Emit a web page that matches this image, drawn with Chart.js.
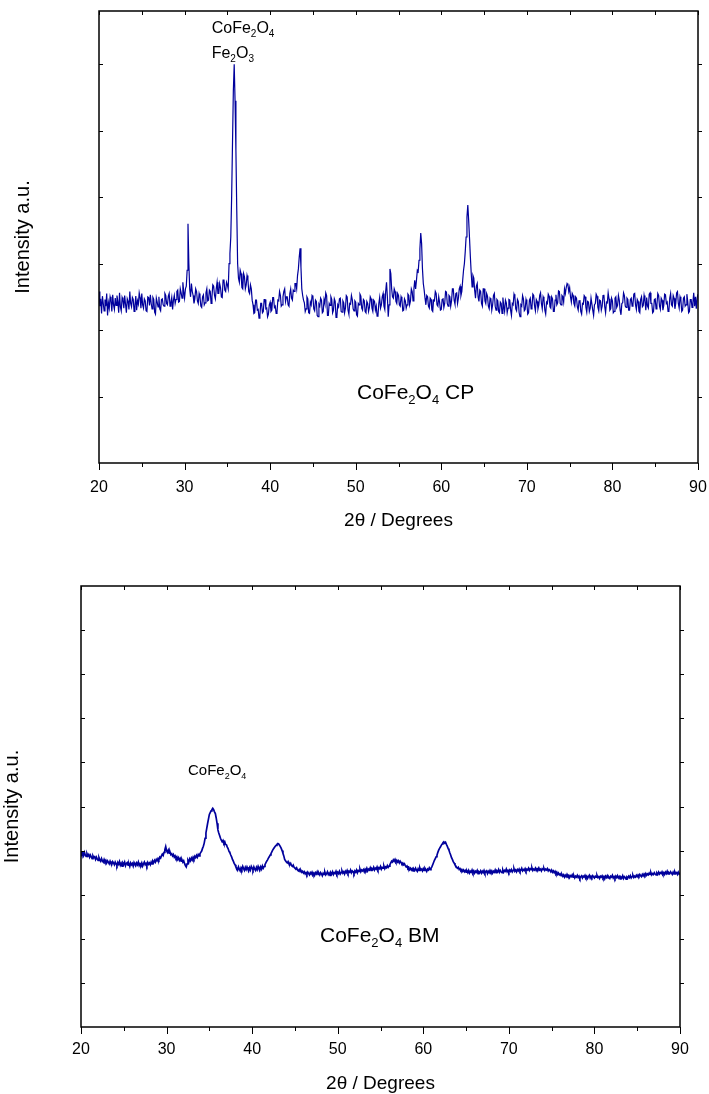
<!DOCTYPE html>
<html>
<head>
<meta charset="utf-8">
<script src="https://cdn.jsdelivr.net/npm/chart.js@4.4.0/dist/chart.umd.min.js"></script>
<style>
  html, body { margin: 0; padding: 0; background: #fff; }
  body { width: 709px; height: 1094px; position: relative; overflow: hidden; }
  canvas { position: absolute; left: 0; }
</style>
</head>
<body>
<canvas id="cpChart" width="709" height="545" style="top:0"></canvas>
<canvas id="bmChart" width="709" height="560" style="top:545px"></canvas>
<script>
// 2theta grid: one reading every 0.1 deg from 20 to 90
const TWO_THETA_START = 20;
const TWO_THETA_STEP = 0.1;
const xTicks = [20, 30, 40, 50, 60, 70, 80, 90];

// CoFe2O4 CP (co-precipitated), intensity a.u., one row per degree
const cpIntensity = [
  258, 236, 247, 225, 251, 240, 229, 246, 236, 255,
  222, 241, 233, 250, 244, 228, 253, 238, 231, 248,
  237, 252, 243, 226, 256, 235, 229, 249, 245, 233,
  252, 239, 226, 247, 243, 231, 258, 240, 235, 249,
  246, 228, 237, 251, 230, 244, 239, 256, 249, 233,
  255, 238, 233, 247, 244, 229, 228, 250, 249, 237,
  253, 240, 232, 249, 246, 227, 224, 248, 242, 235,
  250, 232, 229, 246, 247, 238, 236, 255, 252, 240,
  238, 251, 255, 236, 241, 249, 231, 245, 252, 240,
  246, 258, 260, 242, 243, 262, 256, 248, 272, 258,
  248, 262, 266, 290, 360, 300, 262, 250, 270, 258,
  252, 240, 247, 262, 258, 244, 240, 255, 250, 236,
  234, 250, 253, 238, 241, 256, 262, 244, 245, 260,
  258, 240, 250, 268, 266, 252, 247, 262, 272, 255,
  255, 270, 264, 250, 249, 275, 276, 260, 258, 272,
  268, 262, 300, 315, 340, 400, 480, 560, 600, 545,
  470, 380, 300, 278, 272, 290, 285, 264, 262, 285,
  280, 262, 268, 282, 276, 258, 255, 268, 262, 245,
  238, 225, 226, 245, 245, 230, 231, 218, 222, 240,
  240, 226, 228, 246, 246, 232, 233, 220, 224, 238,
  242, 228, 230, 249, 249, 234, 236, 225, 227, 245,
  244, 258, 252, 236, 238, 250, 258, 262, 243, 250,
  250, 238, 236, 255, 262, 248, 245, 260, 258, 270,
  270, 262, 282, 292, 310, 323, 295, 262, 252, 245,
  241, 228, 232, 250, 247, 226, 225, 242, 238, 252,
  250, 232, 229, 245, 243, 222, 220, 239, 236, 248,
  245, 226, 228, 246, 240, 256, 252, 222, 222, 240,
  237, 250, 246, 226, 230, 247, 243, 219, 221, 238,
  235, 247, 248, 228, 227, 244, 241, 226, 233, 252,
  250, 230, 224, 240, 239, 252, 246, 232, 229, 244,
  242, 223, 221, 240, 238, 254, 251, 233, 230, 246,
  244, 228, 226, 243, 240, 228, 234, 250, 247, 233,
  228, 245, 243, 230, 236, 221, 222, 240, 249, 233,
  238, 250, 255, 236, 231, 258, 272, 250, 220, 238,
  292, 285, 262, 250, 248, 262, 258, 243, 240, 255,
  252, 238, 236, 250, 246, 229, 230, 247, 244, 233,
  238, 254, 252, 238, 244, 262, 258, 244, 262, 275,
  262, 275, 290, 288, 305, 322, 346, 330, 292, 270,
  260, 248, 238, 252, 250, 236, 233, 248, 246, 230,
  228, 245, 244, 258, 255, 238, 236, 250, 242, 230,
  231, 246, 248, 234, 240, 258, 257, 240, 236, 252,
  250, 236, 244, 262, 262, 245, 239, 255, 256, 240,
  248, 262, 266, 252, 258, 275, 290, 300, 318, 340,
  370, 388, 365, 338, 310, 285, 265, 282, 278, 260,
  248, 266, 270, 250, 243, 260, 258, 240, 236, 262,
  262, 244, 240, 255, 251, 236, 232, 248, 246, 230,
  238, 252, 255, 236, 230, 246, 244, 228, 226, 242,
  240, 225, 249, 236, 228, 245, 241, 226, 233, 246,
  245, 230, 222, 240, 238, 254, 250, 232, 229, 246,
  243, 226, 220, 238, 236, 252, 247, 229, 231, 246,
  240, 224, 226, 245, 248, 232, 235, 254, 252, 236,
  229, 246, 243, 232, 238, 252, 256, 240, 232, 250,
  246, 230, 224, 242, 240, 254, 251, 235, 233, 250,
  247, 228, 228, 245, 253, 238, 241, 259, 258, 240,
  238, 252, 250, 242, 262, 255, 264, 270, 268, 258,
  264, 250, 242, 255, 252, 240, 236, 250, 248, 235,
  230, 244, 245, 228, 224, 240, 239, 252, 250, 234,
  227, 243, 242, 228, 233, 248, 248, 230, 222, 238,
  240, 254, 251, 234, 229, 245, 244, 230, 236, 252,
  253, 235, 226, 242, 241, 256, 247, 230, 232, 248,
  244, 226, 228, 248, 250, 234, 237, 252, 245, 230,
  223, 240, 241, 256, 252, 236, 234, 248, 246, 230,
  230, 246, 248, 236, 239, 254, 255, 238, 231, 246,
  243, 228, 226, 246, 250, 235, 237, 252, 244, 230,
  249, 236, 233, 254, 256, 240, 240, 226, 228, 246,
  247, 232, 238, 255, 252, 236, 231, 248, 245, 230,
  237, 254, 253, 240, 242, 228, 229, 248, 255, 238,
  236, 252, 248, 232, 240, 256, 258, 240, 233, 250,
  245, 228, 230, 248, 250, 236, 238, 254, 243, 226,
  228, 246, 246, 234, 241, 256, 236, 250, 232, 248,
  254
];

// CoFe2O4 BM (ball milled), intensity a.u., one row per degree
const bmIntensity = [
  3.98, 3.92, 3.95, 3.89, 3.96, 3.90, 3.87, 3.93, 3.88, 3.91,
  3.85, 3.90, 3.86, 3.82, 3.88, 3.84, 3.86, 3.80, 3.85, 3.81,
  3.78, 3.84, 3.79, 3.76, 3.82, 3.77, 3.74, 3.80, 3.75, 3.78,
  3.72, 3.77, 3.74, 3.70, 3.76, 3.71, 3.69, 3.75, 3.72, 3.68,
  3.74, 3.70, 3.66, 3.73, 3.69, 3.75, 3.67, 3.71, 3.65, 3.72,
  3.69, 3.74, 3.66, 3.71, 3.73, 3.67, 3.70, 3.64, 3.72, 3.68,
  3.71, 3.65, 3.73, 3.69, 3.66, 3.72, 3.68, 3.74, 3.66, 3.70,
  3.67, 3.72, 3.65, 3.70, 3.74, 3.68, 3.71, 3.66, 3.73, 3.69,
  3.72, 3.68, 3.74, 3.70, 3.76, 3.73, 3.78, 3.74, 3.80, 3.77,
  3.82, 3.79, 3.85, 3.83, 3.88, 3.92, 3.89, 3.96, 4.02, 4.09,
  4.00, 3.96, 4.01, 3.94, 3.97, 3.91, 3.93, 3.88, 3.91, 3.85,
  3.88, 3.83, 3.86, 3.80, 3.84, 3.78, 3.82, 3.76, 3.79, 3.74,
  3.77, 3.71, 3.66, 3.63, 3.70, 3.78, 3.74, 3.81, 3.77, 3.83,
  3.79, 3.85, 3.81, 3.87, 3.84, 3.89, 3.85, 3.91, 3.88, 3.93,
  3.96, 3.99, 4.05, 4.10, 4.17, 4.28, 4.40, 4.51, 4.62, 4.72,
  4.82, 4.86, 4.90, 4.93, 4.96, 4.93, 4.88, 4.84, 4.74, 4.62,
  4.47, 4.40, 4.34, 4.28, 4.24, 4.20, 4.23, 4.17, 4.20, 4.14,
  4.13, 4.08, 4.04, 3.98, 3.95, 3.90, 3.86, 3.80, 3.76, 3.71,
  3.68, 3.63, 3.60, 3.56, 3.63, 3.58, 3.54, 3.61, 3.57, 3.64,
  3.59, 3.55, 3.62, 3.57, 3.63, 3.58, 3.54, 3.61, 3.56, 3.64,
  3.60, 3.56, 3.63, 3.58, 3.55, 3.62, 3.57, 3.64, 3.59, 3.56,
  3.63, 3.58, 3.65, 3.60, 3.64, 3.68, 3.72, 3.76, 3.79, 3.83,
  3.86, 3.90, 3.93, 3.97, 4.01, 4.04, 4.07, 4.10, 4.12, 4.14,
  4.16, 4.15, 4.12, 4.09, 4.05, 4.00, 3.94, 3.88, 3.80, 3.77,
  3.74, 3.72, 3.75, 3.70, 3.68, 3.71, 3.66, 3.64, 3.67, 3.62,
  3.60, 3.58, 3.61, 3.56, 3.54, 3.57, 3.52, 3.55, 3.51, 3.53,
  3.49, 3.52, 3.47, 3.50, 3.46, 3.51, 3.48, 3.45, 3.50, 3.47,
  3.51, 3.46, 3.49, 3.44, 3.50, 3.47, 3.52, 3.46, 3.49, 3.45,
  3.50, 3.47, 3.43, 3.49, 3.46, 3.51, 3.45, 3.48, 3.52, 3.46,
  3.49, 3.44, 3.50, 3.47, 3.52, 3.46, 3.50, 3.48, 3.53, 3.47,
  3.51, 3.48, 3.53, 3.47, 3.50, 3.54, 3.49, 3.52, 3.47, 3.53,
  3.50, 3.55, 3.49, 3.53, 3.51, 3.56, 3.50, 3.54, 3.52, 3.48,
  3.54, 3.51, 3.56, 3.50, 3.55, 3.53, 3.58, 3.52, 3.56, 3.54,
  3.57, 3.52, 3.58, 3.55, 3.60, 3.54, 3.58, 3.56, 3.61, 3.55,
  3.59, 3.57, 3.62, 3.56, 3.60, 3.58, 3.63, 3.57, 3.61, 3.59,
  3.64, 3.58, 3.62, 3.60, 3.65, 3.59, 3.63, 3.61, 3.66, 3.62,
  3.65, 3.68, 3.72, 3.76, 3.74, 3.79, 3.76, 3.80, 3.75, 3.78,
  3.74, 3.77, 3.72, 3.76, 3.73, 3.70, 3.72, 3.68, 3.70, 3.66,
  3.63, 3.65, 3.60, 3.62, 3.57, 3.60, 3.56, 3.59, 3.54, 3.58,
  3.55, 3.60, 3.56, 3.53, 3.59, 3.55, 3.61, 3.56, 3.58, 3.54,
  3.59, 3.55, 3.60, 3.57, 3.53, 3.58, 3.56, 3.61, 3.57, 3.60,
  3.63, 3.68, 3.73, 3.78, 3.82, 3.86, 3.90, 3.96, 4.01, 4.05,
  4.08, 4.12, 4.15, 4.18, 4.20, 4.17, 4.19, 4.14, 4.10, 4.05,
  4.01, 3.95, 3.90, 3.84, 3.80, 3.75, 3.72, 3.68, 3.65, 3.62,
  3.60, 3.62, 3.57, 3.59, 3.55, 3.57, 3.53, 3.56, 3.52, 3.55,
  3.51, 3.54, 3.50, 3.55, 3.49, 3.53, 3.51, 3.56, 3.50, 3.54,
  3.49, 3.53, 3.51, 3.55, 3.48, 3.52, 3.50, 3.54, 3.49, 3.53,
  3.50, 3.55, 3.49, 3.52, 3.54, 3.48, 3.53, 3.50, 3.55, 3.51,
  3.54, 3.49, 3.53, 3.51, 3.56, 3.50, 3.54, 3.52, 3.57, 3.51,
  3.55, 3.52, 3.50, 3.56, 3.51, 3.55, 3.53, 3.58, 3.52, 3.55,
  3.51, 3.56, 3.53, 3.57, 3.52, 3.55, 3.59, 3.53, 3.56, 3.52,
  3.57, 3.54, 3.58, 3.53, 3.56, 3.60, 3.54, 3.57, 3.55, 3.59,
  3.54, 3.58, 3.56, 3.60, 3.55, 3.59, 3.57, 3.61, 3.55, 3.58,
  3.56, 3.60, 3.55, 3.59, 3.57, 3.61, 3.56, 3.58, 3.54, 3.59,
  3.57, 3.60, 3.55, 3.58, 3.56, 3.59, 3.54, 3.57, 3.55, 3.52,
  3.56, 3.51, 3.54, 3.50, 3.53, 3.48, 3.51, 3.46, 3.49, 3.45,
  3.47, 3.43, 3.46, 3.42, 3.45, 3.40, 3.44, 3.41, 3.46, 3.42,
  3.44, 3.39, 3.43, 3.41, 3.45, 3.40, 3.43, 3.38, 3.42, 3.40,
  3.44, 3.39, 3.42, 3.37, 3.41, 3.43, 3.38, 3.42, 3.40, 3.44,
  3.39, 3.42, 3.37, 3.41, 3.44, 3.38, 3.42, 3.39, 3.43, 3.40,
  3.38, 3.42, 3.40, 3.44, 3.39, 3.41, 3.37, 3.42, 3.40, 3.43,
  3.38, 3.41, 3.36, 3.42, 3.39, 3.43, 3.38, 3.40, 3.37, 3.42,
  3.40, 3.44, 3.38, 3.41, 3.37, 3.42, 3.39, 3.43, 3.38, 3.41,
  3.36, 3.40, 3.38, 3.43, 3.37, 3.41, 3.39, 3.35, 3.40, 3.38,
  3.42, 3.39, 3.43, 3.38, 3.41, 3.44, 3.39, 3.42, 3.40, 3.44,
  3.41, 3.45, 3.42, 3.46, 3.43, 3.41, 3.46, 3.43, 3.47, 3.44,
  3.48, 3.44, 3.47, 3.45, 3.49, 3.46, 3.50, 3.45, 3.48, 3.46,
  3.50, 3.47, 3.45, 3.49, 3.46, 3.51, 3.47, 3.50, 3.48, 3.52,
  3.47, 3.50, 3.46, 3.51, 3.48, 3.53, 3.47, 3.50, 3.48, 3.52,
  3.49, 3.46, 3.51, 3.47, 3.52, 3.48, 3.50, 3.46, 3.51, 3.47,
  3.50
];

const FONT = '"Liberation Sans", Arial, Helvetica, sans-serif';
const LINE_COLOR = '#00009c';

function toPoints(values) {
  return values.map((v, i) => ({ x: +(TWO_THETA_START + i * TWO_THETA_STEP).toFixed(1), y: v }));
}

// text with subscripts, parts = [[text, isSub], ...]
function drawFormula(ctx, parts, x, y, size) {
  ctx.fillStyle = '#000';
  ctx.textAlign = 'left';
  ctx.textBaseline = 'alphabetic';
  parts.forEach(([t, sub]) => {
    const s = sub ? Math.round(size * 0.62) : size;
    ctx.font = s + 'px ' + FONT;
    ctx.fillText(t, x, sub ? y + size * 0.24 : y);
    x += ctx.measureText(t).width;
  });
}

// box frame, tick marks and formula labels
const frameTicks = {
  id: 'frameTicks',
  afterDatasetsDraw(chart, args, opts) {
    const { ctx, chartArea: a, scales: { x, y } } = chart;
    ctx.save();
    ctx.strokeStyle = '#000';
    ctx.lineWidth = 1;
    ctx.beginPath();
    for (let v = x.min; v <= x.max; v += 5) {
      const px = Math.round(x.getPixelForValue(v)) + 0.5;
      const len = v % 10 === 0 ? 7 : 4;
      ctx.moveTo(px, a.bottom); ctx.lineTo(px, a.bottom + len);
      ctx.moveTo(px, a.top); ctx.lineTo(px, a.top + 4);
    }
    for (let v = y.min + opts.yStep; v < y.max; v += opts.yStep) {
      const py = Math.round(y.getPixelForValue(v)) + 0.5;
      ctx.moveTo(a.left, py); ctx.lineTo(a.left + 4, py);
      ctx.moveTo(a.right, py); ctx.lineTo(a.right + 4, py);
    }
    ctx.stroke();
    ctx.lineWidth = 1.5;
    ctx.strokeRect(a.left, a.top, a.right - a.left, a.bottom - a.top);
    opts.labels.forEach(l => drawFormula(ctx, l.parts, x.getPixelForValue(l.x), y.getPixelForValue(l.y), l.size));
    ctx.restore();
  }
};

function makeChart(id, values, lineWidth, yMax, yStep, box, labels) {
  const canvas = document.getElementById(id);
  return new Chart(canvas, {
    type: 'line',
    data: {
      datasets: [{
        data: toPoints(values),
        borderColor: LINE_COLOR,
        borderWidth: lineWidth,
        pointRadius: 0,
        tension: 0,
        fill: false
      }]
    },
    options: {
      responsive: false,
      animation: false,
      events: [],
      layout: { padding: { left: 0, top: box.top, right: canvas.width - box.right, bottom: 0 } },
      plugins: {
        legend: { display: false },
        tooltip: { enabled: false },
        frameTicks: { yStep: yStep, labels: labels }
      },
      scales: {
        x: {
          type: 'linear',
          min: 20,
          max: 90,
          afterBuildTicks: s => { s.ticks = xTicks.map(v => ({ value: v })); },
          afterFit: s => {
            s.height = canvas.height - box.bottom;
            s.paddingLeft = 0;
            s.paddingRight = 0;
          },
          grid: { display: false, drawTicks: false },
          border: { display: false },
          ticks: { autoSkip: false, maxRotation: 0, padding: box.tickPad, color: '#000', font: { family: FONT, size: 16 } },
          title: { display: true, text: '2θ / Degrees', color: '#000', font: { family: FONT, size: 19 }, padding: { top: 0, bottom: box.titlePad } }
        },
        y: {
          min: 0,
          max: yMax,
          afterFit: s => { s.width = box.left; },
          grid: { display: false, drawTicks: false },
          border: { display: false },
          ticks: { display: false },
          title: { display: true, text: 'Intensity a.u.', color: '#000', font: { family: FONT, size: 20 }, padding: { top: box.yTitlePad, bottom: 0 } }
        }
      }
    },
    plugins: [frameTicks]
  });
}

makeChart('cpChart', cpIntensity, 1.2, 680, 100,
  { left: 99, right: 698, top: 11, bottom: 463, tickPad: 15, titlePad: 13, yTitlePad: 11 },
  [
    { parts: [['CoFe'], ['2', true], ['O'], ['4', true]], x: 33.17, y: 647, size: 16 },
    { parts: [['Fe'], ['2', true], ['O'], ['3', true]], x: 33.17, y: 609, size: 16 },
    { parts: [['CoFe'], ['2', true], ['O'], ['4', true], [' CP']], x: 50.15, y: 96, size: 21 }
  ]);

makeChart('bmChart', bmIntensity, 1.7, 10, 1,
  { left: 81, right: 680, top: 41, bottom: 482, tickPad: 13, titlePad: 10, yTitlePad: 0 },
  [
    { parts: [['CoFe'], ['2', true], ['O'], ['4', true]], x: 32.5, y: 5.71, size: 15 },
    { parts: [['CoFe'], ['2', true], ['O'], ['4', true], [' BM']], x: 47.93, y: 1.93, size: 21 }
  ]);
</script>
</body>
</html>
